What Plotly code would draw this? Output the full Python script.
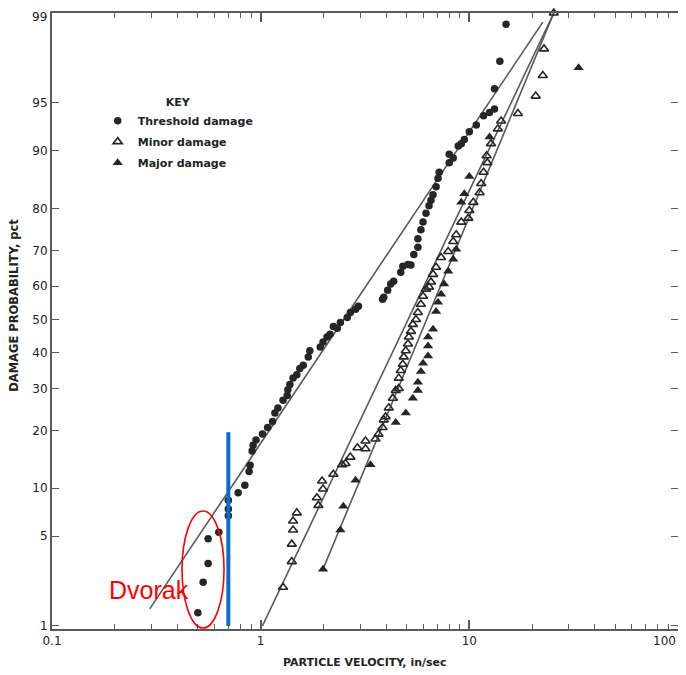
import plotly.graph_objects as go
from statistics import NormalDist

nd = NormalDist()

def probit(vals):
    return [nd.inv_cdf(v / 100.0) for v in vals]

# ---------------- data (velocity in/sec, damage probability pct) ----------------
thr_v = [0.50, 0.53, 0.56, 0.56, 0.63, 0.70, 0.70, 0.70, 0.78, 0.84, 0.88, 0.89, 0.91, 0.92,
         0.95, 1.02, 1.08, 1.14, 1.17, 1.21, 1.28, 1.34, 1.35, 1.38, 1.43, 1.49, 1.54, 1.60,
         1.69, 1.72, 1.93, 1.99, 2.08, 2.15, 2.23, 2.33, 2.41, 2.60, 2.69, 2.85, 2.94, 3.84,
         3.89, 4.06, 4.20, 4.34, 4.69, 4.80, 5.08, 5.25, 5.42, 5.67, 5.67, 5.86, 6.00, 6.20,
         6.41, 6.55, 6.70, 6.93, 7.08, 7.17, 8.01, 8.01, 8.37, 8.85, 9.15, 9.46, 10.0, 10.8,
         11.7, 12.5, 13.2, 13.2, 14.0, 15.0]
thr_p = [1.3, 2.3, 3.2, 4.8, 5.3, 6.8, 7.5, 8.5, 9.4, 10.4, 12.4, 13.4, 15.9, 17.0,
         18.0, 19.2, 20.6, 21.9, 23.9, 25.1, 27.0, 28.2, 29.7, 31.1, 32.8, 33.7, 35.5, 36.4,
         38.8, 40.6, 41.7, 43.2, 44.7, 45.5, 47.9, 47.3, 49.1, 50.6, 52.1, 53.1, 54.0, 56.1,
         56.7, 58.8, 60.6, 61.4, 64.0, 65.7, 66.2, 66.0, 68.9, 70.8, 73.0, 75.2, 77.0, 79.0,
         80.6, 81.7, 82.8, 84.3, 85.8, 86.8, 88.3, 89.5, 89.0, 90.6, 90.9, 91.4, 92.3, 93.0,
         93.9, 94.2, 94.5, 96.0, 97.5, 98.75]

minor_v = [1.28, 1.41, 1.41, 1.43, 1.43, 1.49, 1.86, 1.89, 1.97, 1.99, 2.23, 2.46, 2.55,
           2.69, 2.91, 3.18, 3.18, 3.55, 3.67, 3.84, 3.89, 3.97, 4.11, 4.30, 4.44, 4.59,
           4.59, 4.69, 4.80, 4.85, 4.96, 5.08, 5.13, 5.25, 5.36, 5.55, 5.67, 5.86, 6.00,
           6.20, 6.41, 6.55, 6.70, 6.93, 7.32, 7.92, 8.37, 8.65, 9.15, 9.89, 10.0, 10.45,
           11.2, 11.4, 11.7, 12.2, 12.1, 12.7, 13.7, 14.2, 17.1, 20.8, 22.5, 22.8, 25.4]
minor_p = [2.1, 3.3, 4.4, 5.5, 6.3, 7.1, 8.8, 7.9, 11.0, 9.9, 12.0, 13.5, 13.7,
           14.8, 16.5, 16.3, 17.8, 18.2, 19.2, 20.6, 22.3, 23.0, 25.1, 27.5, 29.5, 30.0,
           32.8, 34.9, 36.7, 38.8, 40.6, 42.6, 44.7, 46.4, 48.5, 50.0, 52.1, 54.6, 57.0,
           59.1, 59.7, 61.2, 63.4, 65.4, 68.1, 69.7, 72.3, 74.0, 77.0, 77.9, 79.6, 81.3,
           83.2, 84.9, 86.8, 88.3, 89.3, 90.9, 92.6, 93.4, 94.1, 95.5, 96.8, 98.0, 99.0]

major_v = [1.99, 2.41, 2.49, 2.85, 3.36, 4.44, 4.96, 5.36, 5.67, 5.67, 5.86, 6.00, 6.34,
           6.34, 6.34, 6.70, 6.93, 7.08, 7.32, 7.57, 7.92, 8.37, 8.65, 9.15, 9.46, 10.0,
           12.5, 33.4]
major_p = [2.9, 5.5, 7.8, 11.1, 13.5, 21.7, 23.9, 27.5, 29.5, 31.7, 34.6, 37.0, 39.1,
           42.0, 44.7, 47.0, 52.4, 55.2, 57.6, 60.6, 64.3, 67.6, 70.3, 81.3, 83.0, 86.1,
           91.7, 97.2]

# fitted lines (end points)
thr_line_v = [0.294, 22.5]
thr_line_p = [1.4, 98.8]
minor_line_v = [1.02, 25.4]
minor_line_p = [1.0, 99.0]
major_line_v = [1.99, 25.4]
major_line_p = [2.9, 99.0]

# overlay marks (blue reference velocity)
blue_v = [0.70, 0.70]
blue_p = [1.0, 19.6]

y_ticks = [1, 5, 10, 20, 30, 40, 50, 60, 70, 80, 90, 95, 99]
x_decades = [0.1, 1, 10, 100]
x_decade_text = ["0.1", "1", "10", "100"]
x_all_ticks = [0.1, 0.2, 0.3, 0.4, 0.5, 0.6, 0.7, 0.8, 0.9,
               1, 2, 3, 4, 5, 6, 7, 8, 9,
               10, 20, 30, 40, 50, 60, 70, 80, 90, 100]

# ---------------- figure ----------------
LINE_C = "#5a5a5a"
MARK_C = "#262626"
FONT = "DejaVu Sans"
TICK_FONT = dict(family=FONT, size=12, color="#222")

fig = go.Figure()

for v, p in [(thr_line_v, thr_line_p), (minor_line_v, minor_line_p), (major_line_v, major_line_p)]:
    fig.add_trace(go.Scatter(x=v, y=probit(p), mode="lines",
                             line=dict(color=LINE_C, width=1.6),
                             showlegend=False, hoverinfo="skip", cliponaxis=False))

fig.add_trace(go.Scatter(x=thr_v, y=probit(thr_p), mode="markers", name="Threshold damage",
                         marker=dict(symbol="circle", size=7.5, color=MARK_C),
                         cliponaxis=False, legendgroup="a"))
fig.add_trace(go.Scatter(x=minor_v, y=probit(minor_p), mode="markers", name="Minor damage",
                         marker=dict(symbol="triangle-up-open", size=8, color=MARK_C,
                                     line=dict(width=1.6, color=MARK_C)),
                         cliponaxis=False, legendgroup="b"))
fig.add_trace(go.Scatter(x=major_v, y=probit(major_p), mode="markers", name="Major damage",
                         marker=dict(symbol="triangle-up", size=9, color=MARK_C),
                         cliponaxis=False, legendgroup="c"))

# blue reference line drawn on the overlay axis (same scale as x)
fig.add_trace(go.Scatter(x=blue_v, y=probit(blue_p), mode="lines", xaxis="x2",
                         line=dict(color="#0a6fc2", width=4),
                         showlegend=False, hoverinfo="skip"))

# red ellipse (paper coordinates)
fig.add_shape(type="circle", xref="paper", yref="paper",
              x0=0.2077, x1=0.2748, y0=0.0016, y1=0.1916,
              line=dict(color="#ff0000", width=1.6))

fig.add_annotation(text="Dvorak", xref="paper", yref="paper", x=0.155, y=0.063,
                   xanchor="center", yanchor="middle",
                   showarrow=False, font=dict(family="Liberation Sans", size=25, color="#ff0000"))

fig.add_annotation(text="PARTICLE VELOCITY, in/sec", xref="paper", yref="paper",
                   x=0.5, y=-0.054, xanchor="center", yanchor="middle", showarrow=False,
                   font=dict(family=FONT, size=11, color="#222", weight="bold"))
fig.add_annotation(text="DAMAGE PROBABILITY, pct", xref="paper", yref="paper",
                   x=-0.061, y=0.526, xanchor="center", yanchor="middle",
                   showarrow=False, textangle=-90,
                   font=dict(family=FONT, size=11.5, color="#222", weight="bold"))

# edge tick labels placed as annotations so they stay inside the page
fig.add_annotation(text=str(y_ticks[-1]), xref="paper", yref="paper", x=0, y=1,
                   xanchor="right", yanchor="middle", xshift=-3, yshift=-4,
                   showarrow=False, font=TICK_FONT)
fig.add_annotation(text=x_decade_text[-1], xref="paper", yref="paper", x=1, y=0,
                   xanchor="right", yanchor="top", yshift=-3,
                   showarrow=False, font=TICK_FONT)

y_text = [str(t) for t in y_ticks]
y_text[-1] = ""
x_text = [x_decade_text[x_decades.index(t)] if t in x_decades else "" for t in x_all_ticks]
x_text[-1] = ""

# page body has an 8px default margin, so the figure is sized 8px smaller
fig.update_layout(
    width=678, height=667,
    margin=dict(l=44, r=8, t=5, b=46, autoexpand=False),
    paper_bgcolor="white", plot_bgcolor="white",
    xaxis=dict(type="log", range=[-1, 2], automargin=False, ticklabeloverflow="allow",
               tickmode="array", tickvals=x_all_ticks, ticktext=x_text,
               ticks="inside", ticklen=5, tickwidth=1.3, tickcolor=LINE_C,
               showline=True, linecolor=LINE_C, linewidth=2, mirror="ticks",
               showgrid=False, zeroline=False, tickfont=TICK_FONT),
    xaxis2=dict(type="log", range=[-1, 2], overlaying="x", side="bottom", automargin=False,
                tickmode="array", tickvals=x_decades, showticklabels=False,
                ticks="inside", ticklen=9, tickwidth=1.5, tickcolor=LINE_C,
                showline=False, mirror="ticks", showgrid=False, zeroline=False),
    yaxis=dict(range=[-2.35, nd.inv_cdf(0.99)], automargin=False, ticklabeloverflow="allow",
               tickmode="array", tickvals=probit(y_ticks), ticktext=y_text,
               ticks="inside", ticklen=7, tickwidth=1.3, tickcolor=LINE_C,
               showline=True, linecolor=LINE_C, linewidth=2, mirror="ticks",
               showgrid=False, zeroline=False, tickfont=TICK_FONT),
    legend=dict(x=0.073, y=0.872, xanchor="left", yanchor="top",
                bgcolor="rgba(0,0,0,0)", tracegroupgap=2,
                title=dict(text="KEY", side="top center",
                           font=dict(family=FONT, size=11, color="#222", weight="bold")),
                font=dict(family=FONT, size=11, color="#222", weight="bold")),
)

fig.write_html("out.html")
